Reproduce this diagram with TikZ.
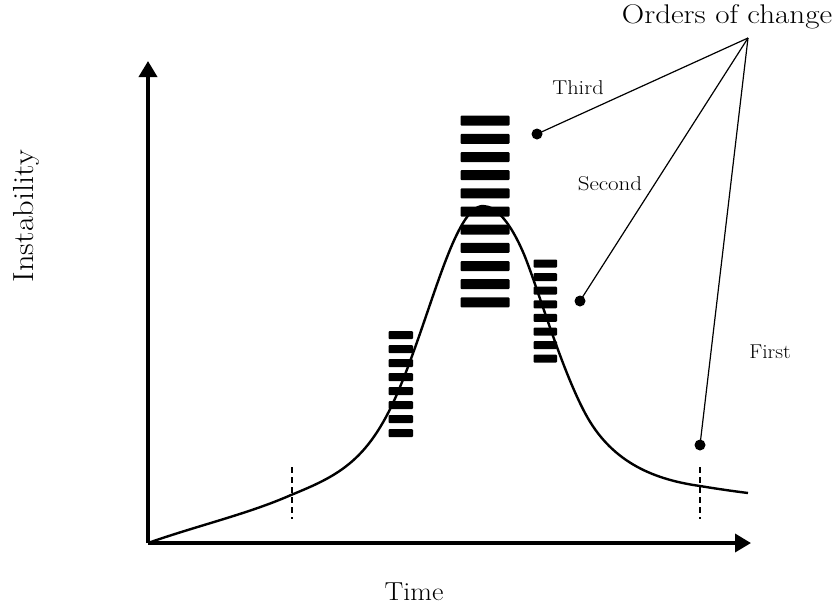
\documentclass[tikz,border=0pt]{standalone}
\usetikzlibrary{arrows.meta}
\begin{document}
\begin{tikzpicture}[x=1pt,y=-1pt,
  axis/.style={line width=3.5pt,-{Triangle[width=18pt,length=16pt]}},
  curve/.style={line width=2.4pt,line join=round},
  tick/.style={line width=2pt,dash pattern=on 6pt off 4pt},
  barfill/.style={fill=black,rounded corners=1pt},
  dot/.style={circle,fill=black,inner sep=0pt,minimum size=11pt},
  leader/.style={line width=1.2pt},
  lbl/.style={inner sep=0pt,anchor=base,font=\fontsize{20}{24}\selectfont}]
\useasboundingbox (0,0) rectangle (833,611);
% axes
\coordinate (o) at (148,543);
\coordinate (ytop) at (148,61);
\coordinate (xend) at (751,543);
\draw[axis] (o) -- (ytop);
\draw[axis] (o) -- (xend);
% bars
\foreach \i in {0,...,10}
  \fill[barfill] (460.5,{115.7+18.17*\i}) rectangle (509.5,{125.7+18.17*\i});
\foreach \i in {0,...,7}
  \fill[barfill] (388.5,{331+14*\i}) rectangle (413,{339+14*\i});
\foreach \i in {0,...,7}
  \fill[barfill] (533.5,{259.5+13.6*\i}) rectangle (557,{267.5+13.6*\i});
% curve
\draw[curve] (148,543) .. controls (196,526) and (248,514) .. (291,495)
  .. controls (340,475) and (370,460) .. (400,387)
  .. controls (432,310) and (455,206) .. (483,206)
  .. controls (497,206) and (511,224.4) .. (523,252)
  .. controls (536,282) and (560,366) .. (585,413)
  .. controls (610,460) and (650,479) .. (700,486)
  .. controls (715,488.5) and (732,491) .. (748,493);
% ticks
\draw[tick] (292,467) -- (292,519);
\draw[tick] (700,467) -- (700,519);
% leaders
\coordinate (hub) at (748,38);
\node[dot] (d3) at (537,134) {};
\node[dot] (d2) at (580,301) {};
\node[dot] (d1) at (700,445) {};
\draw[leader] (hub) -- (d3.center);
\draw[leader] (hub) -- (d2.center);
\draw[leader] (hub) -- (d1.center);
% labels
\node[inner sep=0pt,anchor=base,font=\fontsize{27}{30}\selectfont] (oc) at (727,23) {\scalebox{1.15}[1]{Orders of change}};
\node[lbl] (l3) at (578,94) {\scalebox{1.12}[1]{Third}};
\node[lbl] (l2) at (610,190) {\scalebox{1.15}[1]{Second}};
\node[lbl] (l1) at (770,358) {\scalebox{1.08}[1]{First}};
\node[inner sep=0pt,anchor=base,font=\fontsize{26}{30}\selectfont] (tm) at (414,600) {\scalebox{1.08}[1]{Time}};
\node[inner sep=0pt,anchor=base,rotate=90,font=\fontsize{29}{32}\selectfont] (ins) at (33,216) {\scalebox{1.12}[1]{Instability}};
\end{tikzpicture}
\end{document}
